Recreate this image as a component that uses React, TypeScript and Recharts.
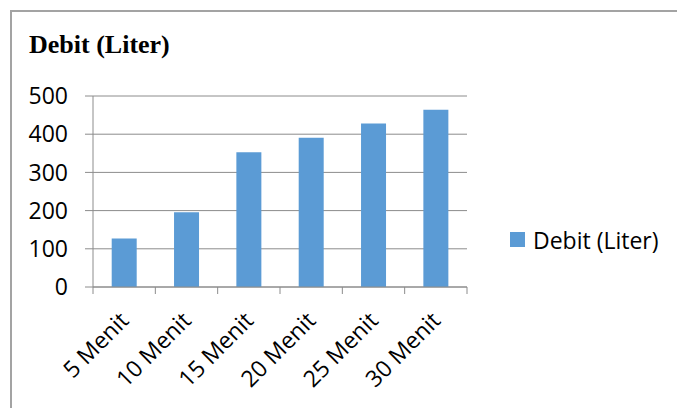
import React from 'react'
import { BarChart, Bar, XAxis, YAxis, CartesianGrid, Legend } from 'recharts'

const CATEGORIES = ['5 Menit', '10 Menit', '15 Menit', '20 Menit', '25 Menit', '30 Menit']
const DEBIT = [127, 196, 353, 391, 428, 464]
const Y_TICKS = [0, 100, 200, 300, 400, 500]
const SERIES_NAME = 'Debit (Liter)'

const BAR_COLOR = '#5b9bd5'
const LINE_COLOR = '#8c8c8c'
const SANS = '"Open Sans", sans-serif'

const data = CATEGORIES.map((label, i) => ({ label, debit: DEBIT[i] }))

// category labels sit rotated under each bar, with tick marks between categories
function CategoryTick(props: any) {
  const { x, y, payload, index } = props
  const half = payload.offset ?? 0
  const tx = x + 6
  const ty = y + 35
  return (
    <g>
      <line x1={x - half} x2={x - half} y1={y} y2={y + 7} stroke={LINE_COLOR} />
      {index === CATEGORIES.length - 1 && (
        <line x1={x + half} x2={x + half} y1={y} y2={y + 7} stroke={LINE_COLOR} />
      )}
      <text
        x={tx}
        y={ty}
        textAnchor="end"
        transform={`rotate(-45, ${tx}, ${ty})`}
        fontFamily={SANS}
        fontSize={23}
        fill="#000"
      >
        {payload.value}
      </text>
    </g>
  )
}

function LegendBox() {
  return (
    <svg width={160} height={30} style={{ overflow: 'visible' }}>
      <rect x={5} y={6} width={15} height={15} fill={BAR_COLOR} />
      <text x={28} y={22.5} fontFamily={SANS} fontSize={23} fill="#000">
        {SERIES_NAME}
      </text>
    </svg>
  )
}

export default function App() {
  return (
    <div style={{ position: 'absolute', left: 0, top: 0, width: 677, height: 408, background: '#fff', overflow: 'hidden' }}>
      <div
        style={{
          position: 'absolute',
          left: 10,
          top: 10,
          width: 700,
          height: 420,
          borderTop: '2px solid #a3a3a3',
          borderLeft: '2px solid #a3a3a3',
        }}
      />
      <svg width={677} height={70} style={{ position: 'absolute', left: 0, top: 0 }}>
        <text x={29} y={53} fontFamily='"Liberation Serif", serif' fontWeight="bold" fontSize={26} fill="#000">
          {SERIES_NAME}
        </text>
      </svg>
      <div style={{ position: 'absolute', left: 0, top: 0 }}>
        <BarChart
          width={677}
          height={408}
          data={data}
          margin={{ top: 96, right: 210, bottom: 91, left: 33 }}
          barCategoryGap="30%"
        >
          <CartesianGrid vertical={false} stroke={LINE_COLOR} strokeDasharray="" />
          <XAxis
            dataKey="label"
            interval={0}
            height={30}
            tickLine={false}
            tickSize={0}
            tickMargin={0}
            axisLine={{ stroke: LINE_COLOR }}
            tick={<CategoryTick />}
          />
          <YAxis
            width={60}
            domain={[0, 500]}
            ticks={Y_TICKS}
            interval={0}
            tickSize={8}
            tickMargin={17}
            tickLine={{ stroke: LINE_COLOR }}
            axisLine={{ stroke: LINE_COLOR }}
            tick={{ fontFamily: SANS, fontSize: 23, fill: '#000' }}
          />
          <Legend
            layout="horizontal"
            verticalAlign="middle"
            align="center"
            wrapperStyle={{ left: 505, top: 226, width: 160, height: 30 }}
            content={<LegendBox />}
          />
          <Bar dataKey="debit" name={SERIES_NAME} fill={BAR_COLOR} isAnimationActive={false} />
        </BarChart>
      </div>
    </div>
  )
}
